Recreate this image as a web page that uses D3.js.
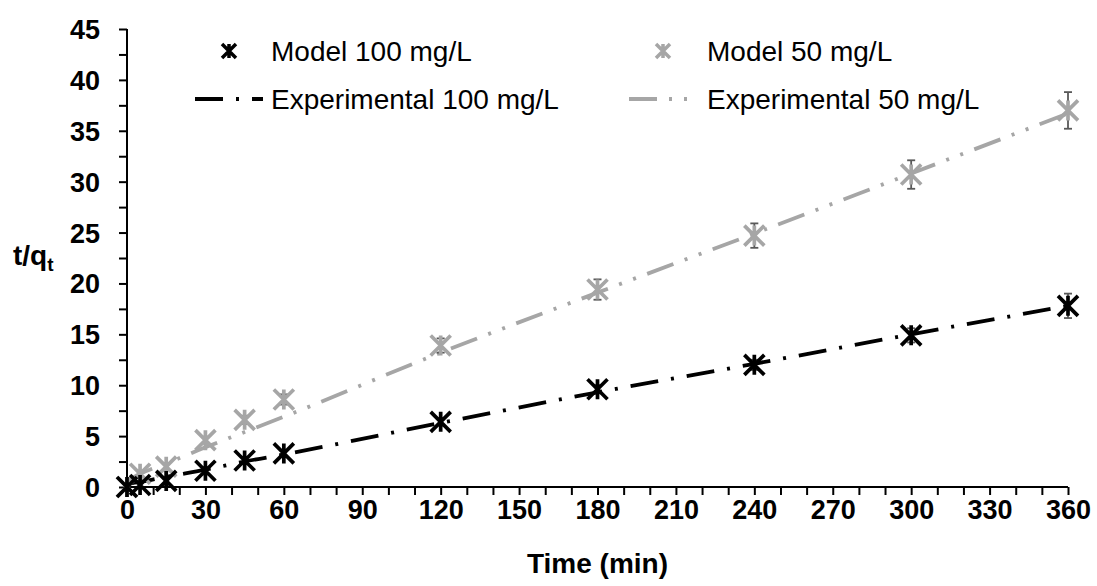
<!DOCTYPE html>
<html>
<head>
<meta charset="utf-8">
<script src="https://d3js.org/d3.v7.min.js"></script>
<style>
  body { margin: 0; background: #fff; }
  svg { display: block; font-family: "Liberation Sans", Arial, sans-serif; }
</style>
</head>
<body>
<div id="chart"></div>
<script>
// time points (min)
var times = [0, 5, 15, 30, 45, 60, 120, 180, 240, 300, 360];
// t/qt values
var model100 = [0, 0.2, 0.6, 1.6, 2.6, 3.3, 6.4, 9.6, 12.0, 14.9, 17.8];
var model100Err = [0, 0.05, 0.1, 0.1, 0.15, 0.2, 0.3, 0.4, 0.5, 0.7, 1.2];
var model50 = [0, 1.3, 2.0, 4.6, 6.6, 8.6, 13.9, 19.4, 24.7, 30.7, 37.0];
var model50Err = [0.1, 0.1, 0.2, 0.3, 0.4, 0.5, 0.7, 1.0, 1.2, 1.4, 1.8];
var exp100 = [0.3, 0.5, 1.0, 1.7, 2.5, 3.2, 6.3, 9.3, 12.1, 15.0, 17.8];
var exp50 = [0.6, 1.3, 2.3, 3.9, 5.4, 6.9, 13.2, 19.1, 24.9, 30.8, 36.7];
var xTickLabels = [0, 30, 60, 90, 120, 150, 180, 210, 240, 270, 300, 330, 360];
var yTickLabels = [0, 5, 10, 15, 20, 25, 30, 35, 40, 45];

var W = 1097, H = 586;
var m = [29, 29, 99, 127]; // top, right, bottom, left
var black = "#000", grey = "#a6a6a6", errGrey = "#595959";
var dashBlack = "28,13,3,13", dashGrey = "28,12,3,12,3,12";

var svg = d3.select("#chart").append("svg").attr("width", W).attr("height", H);

var x = d3.scaleLinear().domain([0, 360]).range([m[3], W - m[1]]);
var y = d3.scaleLinear().domain([0, 45]).range([H - m[2], m[0]]);

// axes
var xAxis = d3.axisBottom(x).tickValues(d3.range(0, 361, 10)).tickSize(8)
  .tickFormat(function(d) { return xTickLabels.indexOf(d) >= 0 ? d : ""; });
var yAxis = d3.axisLeft(y).tickValues(d3.range(0, 45.01, 2.5)).tickSize(8)
  .tickFormat(function(d) { return yTickLabels.indexOf(d) >= 0 ? d : ""; });

var gx = svg.append("g").attr("transform", "translate(0," + y(0) + ")").call(xAxis);
var gy = svg.append("g").attr("transform", "translate(" + x(0) + ",0)").call(yAxis);
[gx, gy].forEach(function(g) {
  g.select(".domain").attr("stroke", black).attr("stroke-width", 2);
  g.selectAll(".tick line").attr("stroke", black).attr("stroke-width", 2);
  g.selectAll(".tick text").attr("fill", black).attr("font-size", 27).attr("font-weight", "bold")
    .attr("font-family", "Liberation Sans, Arial, sans-serif");
});
gx.select(".domain").attr("d", "M" + x(0) + ",0H" + x(360));
gy.select(".domain").attr("d", "M0," + y(45) + "V" + y(0));
gx.selectAll(".tick text").attr("y", 13).attr("dy", "0.71em");
gy.selectAll(".tick text").attr("x", -27).attr("dy", "0.35em");

// axis titles
svg.append("text").attr("x", (x(0) + x(360)) / 2).attr("y", 573).attr("text-anchor", "middle")
  .attr("font-size", 28).attr("font-weight", "bold").text("Time (min)");
var yt = svg.append("text").attr("x", 13).attr("y", 265).attr("font-size", 28).attr("font-weight", "bold");
yt.append("tspan").text("t/q");
yt.append("tspan").attr("font-size", 19).attr("dy", 6).text("t");

// lines
var line = d3.line().curve(d3.curveMonotoneX)
  .x(function(d) { return x(d[0]); }).y(function(d) { return y(d[1]); });
function drawLine(vals, color, dash) {
  svg.append("path").datum(times.map(function(t, i) { return [t, vals[i]]; }))
    .attr("d", line).attr("fill", "none").attr("stroke", color)
    .attr("stroke-width", 3.8).attr("stroke-dasharray", dash);
}
drawLine(exp100, black, dashBlack);
drawLine(exp50, grey, dashGrey);

// error bars
function drawErr(vals, errs) {
  var g = svg.append("g").attr("stroke", errGrey).attr("stroke-width", 1.8);
  times.forEach(function(t, i) {
    if (errs[i] < 0.3) return;
    var cx = x(t), y1 = y(vals[i] + errs[i]), y2 = y(vals[i] - errs[i]);
    g.append("line").attr("x1", cx).attr("x2", cx).attr("y1", y1).attr("y2", y2);
    g.append("line").attr("x1", cx - 4).attr("x2", cx + 4).attr("y1", y1).attr("y2", y1);
    g.append("line").attr("x1", cx - 4).attr("x2", cx + 4).attr("y1", y2).attr("y2", y2);
  });
}
drawErr(model50, model50Err);
drawErr(model100, model100Err);

// asterisk markers
function star(h) {
  return "M0," + (-h) + "V" + h + "M" + (-h) + "," + (-h) + "L" + h + "," + h +
    "M" + (-h) + "," + h + "L" + h + "," + (-h);
}
function drawMarkers(vals, color) {
  svg.append("g").selectAll("path").data(times).enter().append("path")
    .attr("transform", function(t, i) { return "translate(" + x(t) + "," + y(vals[i]) + ")"; })
    .attr("d", star(10)).attr("fill", "none").attr("stroke", color).attr("stroke-width", 3.7);
}
drawMarkers(model50, grey);
drawMarkers(model100, black);

// legend
var legend = [
  { label: "Model 100 mg/L", color: black, type: "marker", lx: 195, tx: 271, ty: 61 },
  { label: "Experimental 100 mg/L", color: black, type: "line", dash: dashBlack, lx: 195, tx: 271, ty: 109 },
  { label: "Model 50 mg/L", color: grey, type: "marker", lx: 629, tx: 707, ty: 61 },
  { label: "Experimental 50 mg/L", color: grey, type: "line", dash: dashGrey, lx: 629, tx: 707, ty: 109 }
];
legend.forEach(function(d) {
  var cy = d.ty - 10;
  if (d.type === "marker") {
    svg.append("path").attr("transform", "translate(" + (d.lx + 34) + "," + cy + ")")
      .attr("d", star(7)).attr("fill", "none").attr("stroke", d.color).attr("stroke-width", 3.5);
  } else {
    svg.append("line").attr("x1", d.lx).attr("x2", d.lx + 68).attr("y1", cy).attr("y2", cy)
      .attr("stroke", d.color).attr("stroke-width", 3.8).attr("stroke-dasharray", d.dash);
  }
  svg.append("text").attr("x", d.tx).attr("y", d.ty).attr("font-size", 28).attr("fill", black).text(d.label);
});
</script>
</body>
</html>
